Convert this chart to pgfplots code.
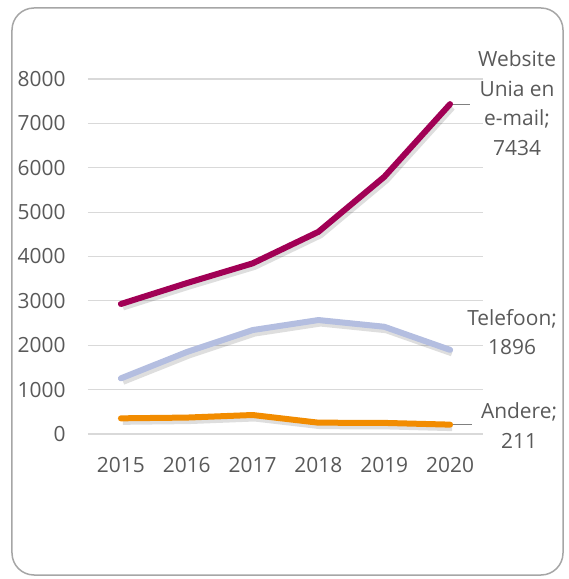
\documentclass[border=0pt]{standalone}
\usepackage{pgfplots}
\pgfplotsset{compat=1.18}
\usepackage{fontspec}
\setmainfont{Open Sans}
\definecolor{webc}{HTML}{A10055}
\definecolor{telc}{HTML}{B4BEE0}
\definecolor{andc}{HTML}{F28C00}
\definecolor{gridc}{HTML}{D9D9D9}
\definecolor{txtc}{HTML}{595959}
\definecolor{framec}{HTML}{A6A6A6}
\begin{document}
\begin{tikzpicture}
\useasboundingbox (-88bp,-145bp) rectangle (481bp,434bp);
\draw[framec, line width=1.5bp, rounded corners=22bp] (-76bp,-141bp) rectangle (475bp,426bp);
\begin{axis}[
  scale only axis, width=395bp, height=355bp, at={(0,0)}, anchor=south west,
  xmin=-0.5, xmax=5.5, ymin=0, ymax=8000,
  xtick={0,1,2,3,4,5}, xticklabels={2015,2016,2017,2018,2019,2020},
  ytick={0,1000,2000,3000,4000,5000,6000,7000,8000},
  yticklabels={0,1000,2000,3000,4000,5000,6000,7000,8000},
  ymajorgrids, grid style={draw=gridc, line width=1.2bp},
  axis line style={draw=none}, major tick style={draw=none},
  ticklabel style={font=\fontsize{21}{26}\selectfont, text=txtc},
  /pgf/number format/assume math mode=true,
  yticklabel style={xshift=-19bp},
  xticklabel style={yshift=-20bp},
  clip=false,
]
% shadows
\addplot[black, opacity=0.13, line width=7bp, xshift=2bp, yshift=-3bp] coordinates {(0,2930) (1,3400) (2,3845) (3,4556) (4,5795) (5,7434)};
\addplot[black, opacity=0.13, line width=7bp, xshift=2bp, yshift=-3bp] coordinates {(0,1254) (1,1847) (2,2342) (3,2568) (4,2417) (5,1896)};
\addplot[black, opacity=0.13, line width=7bp, xshift=2bp, yshift=-3bp] coordinates {(0,353) (1,370) (2,428) (3,255) (4,250) (5,211)};
% series
\addplot[webc, line width=6bp, line join=round, line cap=round] coordinates {(0,2930) (1,3400) (2,3845) (3,4556) (4,5795) (5,7434)};
\addplot[telc, line width=6bp, line join=round, line cap=round] coordinates {(0,1254) (1,1847) (2,2342) (3,2568) (4,2417) (5,1896)};
\addplot[andc, line width=6bp, line join=round, line cap=round] coordinates {(0,353) (1,370) (2,428) (3,255) (4,250) (5,211)};
% leader lines and labels
\draw[gray, line width=1bp] ([xshift=3bp]axis cs:5,7434) -- ([xshift=20bp]axis cs:5,7434);
\draw[gray, line width=1bp] ([xshift=3bp]axis cs:5,211) -- ([xshift=22bp]axis cs:5,211);
\node[text=txtc, font=\fontsize{21}{29.5}\selectfont, align=center] at ([xshift=67bp, yshift=1bp]axis cs:5,7434) {Website\\Unia en\\e-mail;\\7434};
\node[text=txtc, font=\fontsize{21}{29.5}\selectfont, align=center] at ([xshift=62bp, yshift=18bp]axis cs:5,1896) {Telefoon;\\1896};
\node[text=txtc, font=\fontsize{21}{29.5}\selectfont, align=center] at ([xshift=69bp, yshift=-1bp]axis cs:5,211) {Andere;\\211};
\end{axis}
\end{tikzpicture}
\end{document}
